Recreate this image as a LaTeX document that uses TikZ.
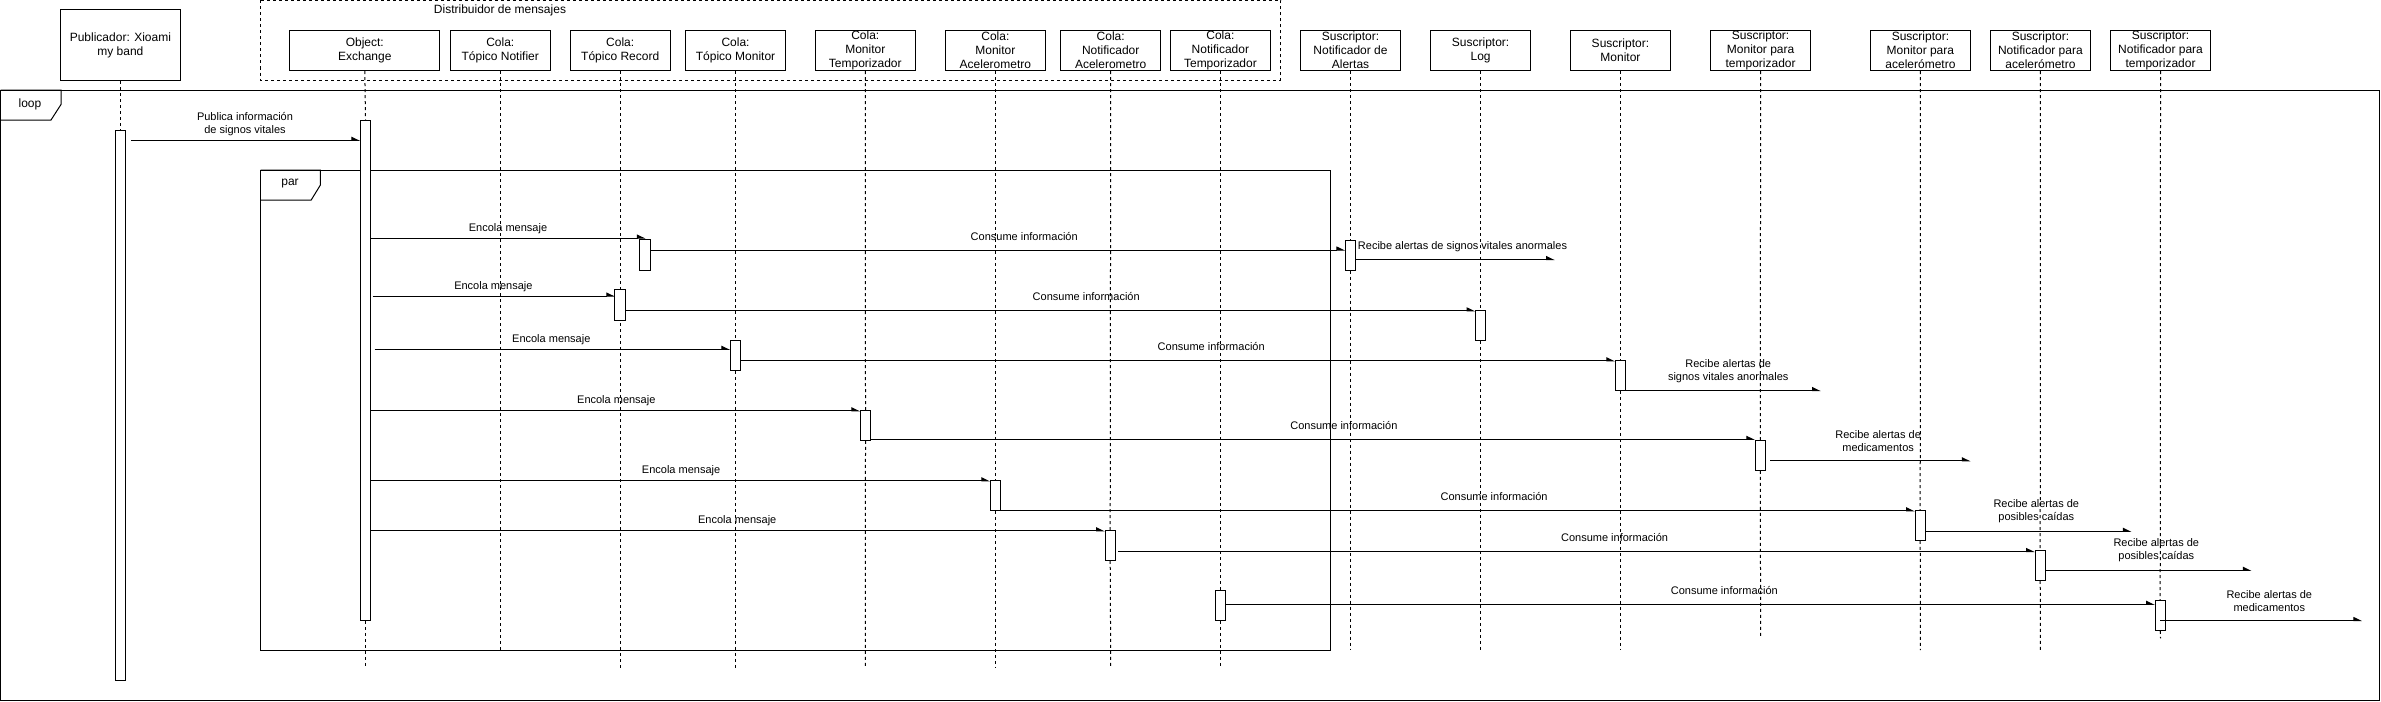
\documentclass[tikz,border=0pt]{standalone}
\usepackage{fontspec}
\setmainfont{Liberation Sans}
\usetikzlibrary{arrows.meta}
\tikzset{
 lifebox/.style={draw, line width=1pt, minimum width=100pt, minimum height=40.4pt, inner sep=0pt, align=center, font=\fontsize{12}{14}\selectfont},
 actbox/.style={draw, fill=white, line width=1pt, minimum width=10pt, minimum height=30pt, inner sep=0pt},
 lifeline/.style={line width=1pt, dash pattern=on 3pt off 3pt},
 msg/.style={line width=1pt, -{Triangle[harpoon, length=7.5pt, width=7pt]}},
 lbl/.style={inner sep=0pt, align=center, font=\fontsize{11}{13}\selectfont},
 frm/.style={line width=1pt},
 frmlbl/.style={inner sep=0pt, font=\fontsize{12}{14}\selectfont}
}
\begin{document}
\begin{tikzpicture}[x=1pt,y=-1pt]
\useasboundingbox (0,0) rectangle (2381,701);
% frames
\draw[frm] (0.5,90) rectangle (2379.5,700);
\draw[frm] (0.5,90) -- (61,90) -- (61,104.5) -- (51,120) -- (0.5,120);
\node[frmlbl] (looplbl) at (30,104) {loop};
\draw[frm] (260.7,170) rectangle (1330.6,650);
\draw[frm] (260.7,170) -- (320.4,170) -- (320.4,185) -- (311.2,200) -- (260.7,200);
\node[frmlbl] (parlbl) at (290,184) {par};
\draw[lifeline] (260.7,0.5) rectangle (1280.6,80);
\node[frmlbl, anchor=base] (dist) at (500,13.5) {Distribuidor de mensajes};
% participants
\node[lifebox, minimum width=120.4pt, minimum height=70.7pt] (pub) at (120.4,45.35) {Publicador: Xioami\\my band};
\node[lifebox, minimum width=150pt] (ex) at (364.8,50.5) {Object:\\Exchange};
\node[lifebox] (tn) at (500.25,50.5) {Cola:\\Tópico Notifier};
\node[lifebox] (tr) at (620.2,50.5) {Cola:\\Tópico Record};
\node[lifebox] (tm) at (735.5,50.5) {Cola:\\Tópico Monitor};
\node[lifebox] (ct) at (865.3,50.5) {Cola:\\Monitor\\Temporizador};
\node[lifebox] (ca) at (995.4,50.5) {Cola:\\Monitor\\Acelerometro};
\node[lifebox] (na) at (1110.7,50.5) {Cola:\\Notificador\\Acelerometro};
\node[lifebox] (nt) at (1220.4,50.5) {Cola:\\Notificador\\Temporizador};
\node[lifebox] (sa) at (1350.5,50.5) {Suscriptor:\\Notificador de\\Alertas};
\node[lifebox] (sl) at (1480.6,50.5) {Suscriptor:\\Log};
\node[lifebox] (sm) at (1620.4,50.5) {Suscriptor:\\Monitor};
\node[lifebox] (smt) at (1760.6,50.5) {Suscriptor:\\Monitor para\\temporizador};
\node[lifebox] (sma) at (1920.4,50.5) {Suscriptor:\\Monitor para\\acelerómetro};
\node[lifebox] (sna) at (2040.4,50.5) {Suscriptor:\\Notificador para\\acelerómetro};
\node[lifebox] (snt) at (2160.5,50.5) {Suscriptor:\\Notificador para\\temporizador};
% activations
\node[actbox, minimum height=550.3pt] (pa) at (120.4,405.15) {};
\node[actbox, minimum height=500.3pt] (ea) at (365.5,370.15) {};
\node[actbox] (r1) at (645.4,255.15) {};
\node[actbox] (r2) at (620.4,305.3) {};
\node[actbox] (m3) at (735.5,355.3) {};
\node[actbox] (t4) at (865.5,425.3) {};
\node[actbox] (a5) at (995.4,495.3) {};
\node[actbox] (n6) at (1110.2,545.3) {};
\node[actbox] (nt7) at (1220.4,605.3) {};
\node[actbox] (sa1) at (1350.5,255.15) {};
\node[actbox] (sl1) at (1480.6,325.3) {};
\node[actbox] (sm1) at (1620.4,375.3) {};
\node[actbox] (smt1) at (1760.3,455.3) {};
\node[actbox] (sma1) at (1920.2,525.3) {};
\node[actbox] (sna1) at (2040.2,565.3) {};
\node[actbox] (snt1) at (2160.2,615.3) {};
% lifelines
\begin{scope}[on background layer/.style={}]
\end{scope}
\draw[lifeline] (pub.south) -- (pa.north);
\draw[lifeline] (ex.south) -- (ea.north);
\draw[lifeline] (ea.south) -- (ea.south |- 0,667.7);
\draw[lifeline] (tn.south) -- (tn.south |- 0,650);
\draw[lifeline] (tr.south) -- (tr.south |- 0,667.7);
\draw[lifeline] (tm.south) -- (m3.north);
\draw[lifeline] (m3.south) -- (tm.south |- 0,667.7);
\draw[lifeline] (ct.south) -- (t4.north);
\draw[lifeline] (t4.south) -- (ct.south |- 0,667.7);
\draw[lifeline] (ca.south) -- (a5.north);
\draw[lifeline] (a5.south) -- (ca.south |- 0,667.7);
\draw[lifeline] (na.south) -- (n6.north);
\draw[lifeline] (n6.south) -- (na.south |- 0,667.7);
\draw[lifeline] (nt.south) -- (nt7.north);
\draw[lifeline] (nt7.south) -- (nt.south |- 0,667.7);
\draw[lifeline] (sa.south) -- (sa1.north);
\draw[lifeline] (sa1.south) -- (sa.south |- 0,650);
\draw[lifeline] (sl.south) -- (sl1.north);
\draw[lifeline] (sl1.south) -- (sl.south |- 0,650);
\draw[lifeline] (sm.south) -- (sm1.north);
\draw[lifeline] (sm1.south) -- (sm.south |- 0,650);
\draw[lifeline] (smt.south) -- (smt1.north);
\draw[lifeline] (smt1.south) -- (smt.south |- 0,638.3);
\draw[lifeline] (sma.south) -- (sma1.north);
\draw[lifeline] (sma1.south) -- (sma.south |- 0,650);
\draw[lifeline] (sna.south) -- (sna1.north);
\draw[lifeline] (sna1.south) -- (sna.south |- 0,650);
\draw[lifeline] (snt.south) -- (snt1.north);
\draw[lifeline] (snt1.south) -- (snt.south |- 0,638.3);
% redraw activations over the lifelines
\foreach \a in {r1,r2}{\draw[line width=1pt, fill=white] (\a.north west) rectangle (\a.south east);}
% free ends
\coordinate (m4e) at (1554.6,259.5);
\coordinate (m9e) at (1820.6,390.5);
\coordinate (m12e) at (1970.5,460.8);
\coordinate (m15e) at (2131.4,531.3);
\coordinate (m18e) at (2251.4,570.3);
\coordinate (m20e) at (2362,620.5);
% messages
\draw[msg, shorten <=5.5pt] (pa.east |- 0,140.3) -- (ea.west |- 0,140.3);
\node[lbl] (l1) at (245,124.5) {Publica información\\de signos vitales};
\draw[msg] (ea.east |- 0,238) -- (r1.north |- 0,238);
\node[lbl] (l2) at (508,228.3) {Encola mensaje};
\draw[msg] (r1.east |- 0,250) -- (sa1.west |- 0,250);
\node[lbl] (l3) at (1024.2,236.3) {Consume información};
\draw[msg] (sa1.east |- 0,259.5) -- (m4e);
\node[lbl] (l4) at (1462.5,246.3) {Recibe alertas de signos vitales anormales};
\draw[msg, shorten <=1.5pt] (ea.east |- 0,296) -- (r2.west |- 0,296);
\node[lbl] (l5) at (493.4,286.3) {Encola mensaje};
\draw[msg] (r2.east |- 0,310.8) -- (sl1.west |- 0,310.8);
\node[lbl] (l6) at (1086.2,296.3) {Consume información};
\draw[msg, shorten <=3.5pt] (ea.east |- 0,349.3) -- (m3.west |- 0,349.3);
\node[lbl] (l7) at (551.3,339.3) {Encola mensaje};
\draw[msg] (m3.east |- 0,360.8) -- (sm1.west |- 0,360.8);
\node[lbl] (l8) at (1211.2,346.3) {Consume información};
\draw[msg] (sm1.east |- 0,390.5) -- (m9e);
\node[lbl] (l9) at (1728.2,370.8) {Recibe alertas de\\signos vitales anormales};
\draw[msg] (ea.east |- 0,410.8) -- (t4.west |- 0,410.8);
\node[lbl] (l10) at (616.3,400.3) {Encola mensaje};
\draw[msg] (t4.east |- 0,439.3) -- (smt1.west |- 0,439.3);
\node[lbl] (l11) at (1343.9,425.3) {Consume información};
\draw[msg, shorten <=4.5pt] (smt1.east |- 0,460.8) -- (m12e);
\node[lbl] (l12) at (1878.1,440.8) {Recibe alertas de\\medicamentos};
\draw[msg] (ea.east |- 0,480.8) -- (a5.west |- 0,480.8);
\node[lbl] (l13) at (681.1,470.3) {Encola mensaje};
\draw[msg] (a5.east |- 0,510.8) -- (sma1.west |- 0,510.8);
\node[lbl] (l14) at (1494.1,496.3) {Consume información};
\draw[msg] (sma1.east |- 0,531.3) -- (m15e);
\node[lbl] (l15) at (2036.3,510.8) {Recibe alertas de\\posibles caídas};
\draw[msg] (ea.east |- 0,530.8) -- (n6.west |- 0,530.8);
\node[lbl] (l16) at (737.2,520.3) {Encola mensaje};
\draw[msg, shorten <=2.7pt] (n6.east |- 0,551.5) -- (sna1.west |- 0,551.5);
\node[lbl] (l17) at (1614.6,537.3) {Consume información};
\draw[msg] (sna1.east |- 0,570.3) -- (m18e);
\node[lbl] (l18) at (2156.3,549.8) {Recibe alertas de\\posibles caídas};
\draw[msg] (nt7.east |- 0,604.3) -- (snt1.west |- 0,604.3);
\node[lbl] (l19) at (1724.3,590.3) {Consume información};
\draw[msg] (snt1.north |- 0,620.5) -- (m20e);
\node[lbl] (l20) at (2269.3,600.8) {Recibe alertas de\\medicamentos};
\end{tikzpicture}
\end{document}
